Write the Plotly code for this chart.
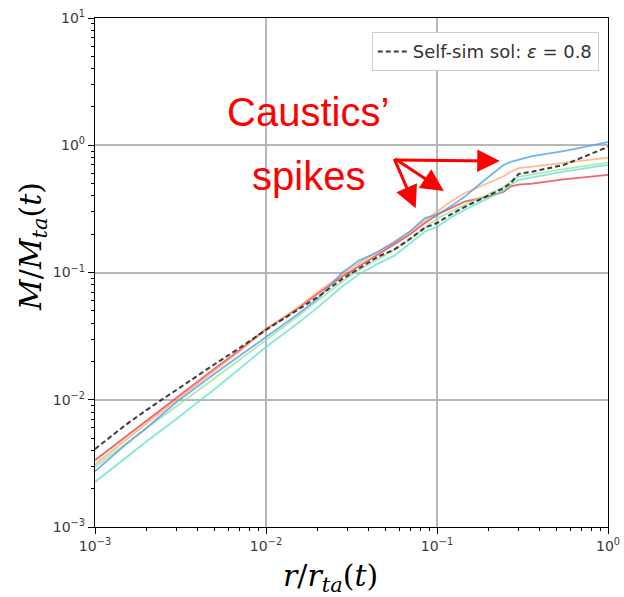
import plotly.graph_objects as go

# ---- data ----
r = [0.001, 0.0015, 0.002, 0.003, 0.005, 0.007, 0.01, 0.015, 0.02, 0.028, 0.035,
     0.045, 0.056, 0.068, 0.085, 0.1, 0.12, 0.145, 0.19, 0.245, 0.27, 0.3, 0.36, 0.55, 1.0]

m_red = [0.00335, 0.0051, 0.0068, 0.0103, 0.0175, 0.0245, 0.0360, 0.051, 0.068, 0.093, 0.112,
         0.138, 0.165, 0.195, 0.245, 0.283, 0.32, 0.36, 0.39, 0.43, 0.475, 0.49, 0.50, 0.54, 0.585]
m_orange = [0.0031, 0.0048, 0.0065, 0.0100, 0.0170, 0.0240, 0.0355, 0.052, 0.070, 0.097, 0.118,
            0.145, 0.175, 0.205, 0.255, 0.30, 0.36, 0.42, 0.49, 0.57, 0.62, 0.66, 0.68, 0.73, 0.80]
m_green = [0.00296, 0.0045, 0.0060, 0.0089, 0.0148, 0.0205, 0.0296, 0.044, 0.060, 0.085, 0.105,
           0.128, 0.150, 0.178, 0.225, 0.265, 0.30, 0.34, 0.40, 0.47, 0.52, 0.565, 0.59, 0.65, 0.73]
m_cyan = [0.00226, 0.0035, 0.0047, 0.0071, 0.0121, 0.0175, 0.026, 0.039, 0.053, 0.078, 0.097,
          0.117, 0.135, 0.165, 0.210, 0.228, 0.27, 0.31, 0.37, 0.44, 0.49, 0.535, 0.56, 0.62, 0.70]
m_blue = [0.00274, 0.0044, 0.0060, 0.0096, 0.0160, 0.0220, 0.031, 0.046, 0.062, 0.100, 0.124,
          0.145, 0.171, 0.205, 0.268, 0.285, 0.33, 0.393, 0.533, 0.70, 0.74, 0.77, 0.82, 0.90, 1.06]
m_selfsim = [0.0041, 0.0063, 0.0083, 0.0120, 0.0190, 0.0255, 0.0354, 0.050, 0.064, 0.089, 0.108,
             0.133, 0.151, 0.180, 0.225, 0.245, 0.285, 0.327, 0.39, 0.46, 0.506, 0.596, 0.62, 0.70, 0.97]

series = [
    ("red", m_red, "rgba(240,50,50,0.75)"),
    ("orange", m_orange, "rgba(255,160,100,0.7)"),
    ("green", m_green, "rgba(150,225,150,0.75)"),
    ("cyan", m_cyan, "rgba(90,225,200,0.75)"),
    ("blue", m_blue, "rgba(80,160,235,0.8)"),
]
legend_label = "Self-sim sol: <i>ε</i> = 0.8"
x_title = "<i>r</i>/<i>r</i><sub><i>ta</i></sub>(<i>t</i>)"
y_title = "<i>M</i>/<i>M</i><sub><i>ta</i></sub>(<i>t</i>)"

x_exps = [-3, -2, -1, 0]
y_exps = [-3, -2, -1, 0, 1]

fig = go.Figure()
for name, vals, col in series:
    fig.add_trace(go.Scatter(x=r, y=vals, mode="lines", name=name, showlegend=False,
                             line=dict(color=col, width=1.8)))
fig.add_trace(go.Scatter(x=r, y=m_selfsim, mode="lines", name=legend_label,
                         line=dict(color="rgba(40,40,40,0.9)", width=2, dash="5px,3px")))


def axis_style(exps):
    major = [10.0 ** e for e in exps]
    labels = ["10<sup>%s</sup>" % (str(e).replace("-", "−")) for e in exps]
    minor_vals = [k * 10.0 ** e for e in exps[:-1] for k in range(2, 10)]
    return dict(
        type="log", showline=True, linecolor="black", linewidth=1.3, mirror=True,
        ticks="outside", ticklen=6, tickwidth=1, tickcolor="black",
        showgrid=True, gridcolor="#b8b8b8", gridwidth=1.5,
        tickmode="array", tickvals=major, ticktext=labels,
        tickfont=dict(family="DejaVu Sans", size=14, color="#3a3a3a"),
        minor=dict(ticks="outside", ticklen=3, tickcolor="black", tickwidth=1,
                   tickmode="array", tickvals=minor_vals, showgrid=False),
        zeroline=False,
    )


fig.update_xaxes(range=[-3, 0], **axis_style(x_exps))
fig.update_yaxes(range=[-3, 1], **axis_style(y_exps))

fig.update_layout(
    width=624, height=597,
    margin=dict(l=95, r=16, t=18, b=70, autoexpand=False),
    paper_bgcolor="white", plot_bgcolor="white",
    legend=dict(x=0.982, y=0.972, xanchor="right", yanchor="top",
                bgcolor="white", bordercolor="#cccccc", borderwidth=1,
                font=dict(family="DejaVu Sans", size=18, color="#333")),
)

title_font = dict(family="DejaVu Serif", size=30, color="black")
fig.add_annotation(text=x_title, xref="paper", yref="paper", x=0.459, y=-0.1,
                   showarrow=False, font=title_font, xanchor="center", yanchor="middle")
fig.add_annotation(text=y_title, xref="paper", yref="paper", x=-0.123, y=0.552,
                   showarrow=False, font=title_font, xanchor="center", yanchor="middle",
                   textangle=-90)

red = "#ff0000"
fig.add_annotation(text="Caustics’", xref="paper", yref="paper", x=0.416, y=0.815,
                   showarrow=False, font=dict(family="Liberation Sans", size=40, color=red),
                   xanchor="center", yanchor="middle")
fig.add_annotation(text="spikes", xref="paper", yref="paper", x=0.416, y=0.690,
                   showarrow=False, font=dict(family="Liberation Sans", size=40, color=red),
                   xanchor="center", yanchor="middle")

heads = [(0.789, 0.719, -106, -1), (0.680, 0.660, -50, -33), (0.625, 0.626, -22, -51)]
for hx, hy, ax, ay in heads:
    fig.add_annotation(x=hx, y=hy, xref="paper", yref="paper", ax=ax, ay=ay,
                       showarrow=True, arrowhead=2, arrowsize=1.5, arrowwidth=3,
                       arrowcolor=red, text="", standoff=0, startstandoff=0)

fig.write_html("out.html")
